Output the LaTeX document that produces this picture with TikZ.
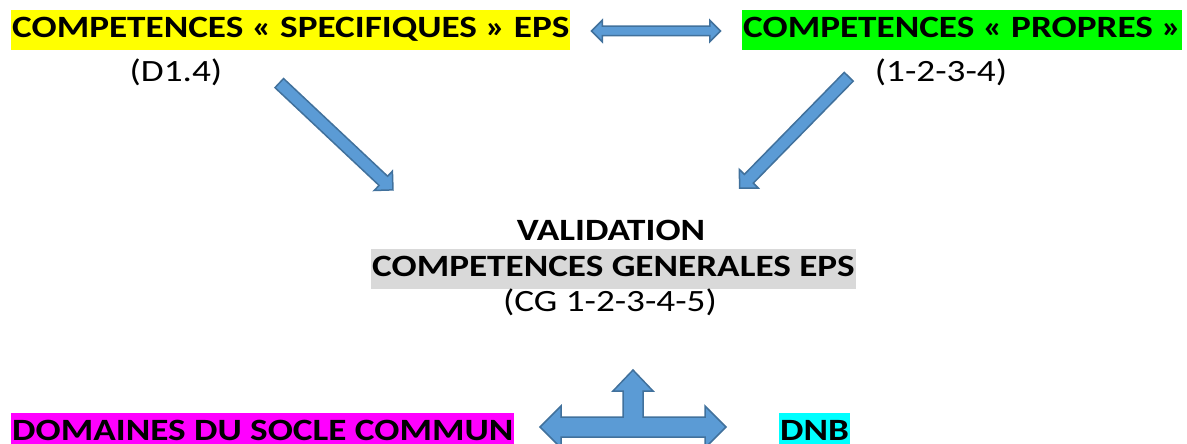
\documentclass[tikz,border=0pt]{standalone}
\usepackage{fontspec}
\setmainfont{Carlito}[FakeStretch=1.2]
\usetikzlibrary{positioning,calc,shapes.arrows}
\definecolor{arrfill}{HTML}{5B9BD5}
\definecolor{arrline}{HTML}{41719C}
\definecolor{hlgray}{HTML}{D9D9D9}
\definecolor{hlyellow}{HTML}{FFFF00}
\definecolor{hlgreen}{HTML}{00FF00}
\definecolor{hlmagenta}{HTML}{FF00FF}
\definecolor{hlcyan}{HTML}{00FFFF}
\tikzset{txt/.style={inner sep=0pt, font=\fontsize{31}{37}\selectfont}}
\tikzset{hl/.style args={#1}{txt, fill=#1, inner xsep=1pt, text height=27.5pt, text depth=12.5pt, font=\fontsize{31}{37}\selectfont\bfseries}}
\tikzset{barr/.style={single arrow, draw=arrline, fill=arrfill, line width=1.5pt, single arrow head extend=7pt, inner sep=5.5pt, minimum height=156pt}}
\tikzset{dbarr/.style={double arrow, draw=arrline, fill=arrfill, line width=1.5pt, double arrow head extend=6pt, inner sep=4pt, minimum height=129pt}}

\begin{document}
\begin{tikzpicture}[x=1pt, y=-1pt]
	\useasboundingbox (0,0) rectangle (1187,444);
	% top line
	\node[hl=hlyellow, anchor=base west] (spec) at (11,37.5) {COMPETENCES « SPECIFIQUES » EPS};
	\node[txt, anchor=base] (specref) at (176,81.5) {(D1.4)};
	\node[hl=hlgreen, anchor=base west] (prop) at (742,37.5) {COMPETENCES « PROPRES »};
	\node[txt, anchor=base] (propref) at (941,81.5) {(1-2-3-4)};
	\node[dbarr] (link) at (656,31) {};
	% validation
	\node[txt, anchor=base, font=\fontsize{31}{37}\selectfont\bfseries] (valid) at (611,240) {VALIDATION};
	\node[hl=hlgray, anchor=base] (cg) at (613.5,276) {COMPETENCES GENERALES EPS};
	\node[txt, anchor=base] (cgref) at (610,311) {(CG 1-2-3-4-5)};
	\coordinate (tL) at (277,81);
	\coordinate (hL) at (390.7,187.7);
	\coordinate (tR) at (851,74.5);
	\coordinate (hR) at (741.7,186);
	\node[barr, rotate=-43.2] (arrL) at ($(tL)!.5!(hL)$) {};
	\node[barr, rotate=225.6] (arrR) at ($(tR)!.5!(hR)$) {};
	% bottom line
	\node[hl=hlmagenta, text depth=4pt, anchor=base west] (socle) at (11,440) {DOMAINES DU SOCLE COMMUN};
	\node[hl=hlcyan, text depth=4pt, anchor=base west] (dnb) at (779,440) {DNB};
	\coordinate (fork) at (633,427);
	\draw[arrline, fill=arrfill, line width=1.5pt]
		($(fork)+(-93,0)$) -- ++(21,-21) -- ++(0,11) -- ++(62,0) -- ++(0,-26)
		-- ++(-10,0) -- ++(20,-21) -- ++(20,21) -- ++(-10,0) -- ++(0,26)
		-- ++(62,0) -- ++(0,-11) -- ++(21,21) -- ++(-21,21) -- ++(0,-11)
		-- ++(-144,0) -- ++(0,11) -- cycle;
\end{tikzpicture}
\end{document}
